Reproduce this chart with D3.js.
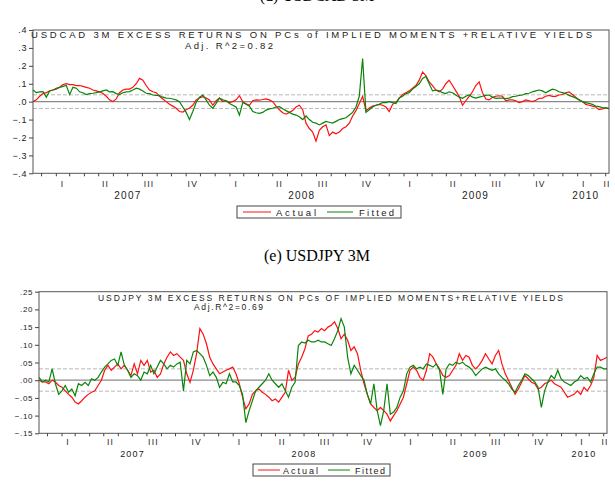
<!DOCTYPE html>
<html>
<head>
<meta charset="utf-8">
<script src="https://cdn.jsdelivr.net/npm/d3@7"></script>
<style>
  body { margin: 0; background: #fff; }
  svg { display: block; font-family: "Liberation Sans", Arial, sans-serif; }
</style>
</head>
<body>
<svg id="fig" width="615" height="489"></svg>
<script>
// weekly observations, first one on 15 Dec 2006
const startDate = new Date(2006, 11, 15);
const quarterNames = ["I", "II", "III", "IV"];
const years = [2007, 2008, 2009, 2010];
const legendNames = ["Actual", "Fitted"];

// USDCAD 3M
const cadActual = [
  0.00, .01, .03, .045, .05, .06, .065, .07, .08, .095,
  .10, .095, .095, .09, .09, .085, .08, .075, .065, .06,
  .055, .045, .03, .01, .00, .015, .05, .065, .07, .07,
  .08, .10, .13, .12, .09, .065, .055, .05, .03, .015,
  .00, -.015, -.025, -.037, -.055, -.058, -.045, -.035, -.02, .01,
  .02, .028, .02, .01, -.02, .005, .02, .00, .005, -.005,
  .00, .01, .033, .00, -.012, -.02, .005, .01, .008, .012,
  .015, .01, .00, -.025, -.045, -.062, -.07, -.06, -.05, -.03,
  -.02, -.045, -.12, -.15, -.17, -.22, -.16, -.14, -.13, -.19,
  -.17, -.18, -.17, -.15, -.14, -.12, -.08, -.05, -.01, .03,
  -.05, -.035, -.025, -.02, -.015, -.02, -.03, -.055, -.015, -.005,
  .02, .04, .05, .06, .075, .09, .12, .165, .145, .11,
  .09, .065, .055, .07, .10, .12, .09, .06, .03, -.02,
  .005, .03, .055, .09, .11, .05, .015, .01, .025, .03,
  .033, .03, .005, .01, .01, .005, -.005, .00, .01, .005,
  .00, .008, .018, .02, .03, .035, .03, .03, .037, .04,
  .05, .055, .04, .025, .01, .00, -.015, -.02, -.025, -.03,
  -.045, -.04, -.035, -.04
];
const cadFitted = [
  .065, .05, .055, .056, .025, .06, .065, .075, .08, .085,
  .09, .04, .08, .075, .055, .05, .04, .045, .047, .05,
  .055, .06, .065, .055, .056, .045, .04, .05, .055, .056,
  .065, .075, .07, .06, .047, .045, .037, .035, .034, .025,
  .02, .019, .015, .01, .00, -.03, -.06, -.1, -.055, -.005,
  .025, .037, .01, -.02, -.037, -.01, .02, .01, .005, -.01,
  -.02, -.03, -.075, -.005, -.015, -.025, -.055, -.062, -.065, -.06,
  -.047, -.04, -.037, -.03, -.028, -.04, -.05, -.06, -.07, -.075,
  -.084, -.1, -.08, -.1, -.115, -.12, -.13, -.12, -.11, -.115,
  -.12, -.11, -.1, -.095, -.09, -.075, -.06, -.03, .03, .24,
  -.06, -.045, -.03, -.02, -.015, -.005, -.005, .00, -.005, -.01,
  .02, .03, .045, .05, .07, .085, .10, .13, .14, .10,
  .06, .065, .06, .05, .045, .055, .05, .037, .025, .019,
  .03, .037, .025, .02, .025, .03, .035, .037, .025, .018,
  .02, .02, .017, .02, .028, .03, .035, .037, .045, .047,
  .055, .06, .065, .06, .05, .06, .07, .065, .055, .05,
  .045, .035, .028, .02, .01, .00, -.005, -.01, -.015, -.025,
  -.028, -.033, -.035, -.038
];
const cadTicks = [.4, .3, .2, .1, 0, -.1, -.2, -.3, -.4];
const cadBands = [.038, -.038];

// USDJPY 3M
const jpyActual = [
  .00, -.005, -.005, -.01, .00, -.005, -.015, -.02, -.03, -.04,
  -.048, -.062, -.067, -.058, -.048, -.04, -.034, -.03, -.015, .00,
  .028, .042, .028, .037, .046, .032, .042, .028, .013, .046,
  .018, .056, .042, .056, .023, .028, .008, .018, .046, .065,
  .08, .07, .075, .065, .056, .018, -.006, .028, .075, .146,
  .13, .103, .065, .046, .032, .018, .023, .028, .032, .037,
  .018, -.01, -.048, -.081, -.067, -.04, -.03, -.025, -.034, -.04,
  -.048, -.058, -.053, -.062, -.048, -.034, .028, .00, .008, .046,
  .065, .089, .125, .13, .14, .136, .146, .14, .15, .155,
  .165, .146, .117, .13, .113, .084, .094, .075, .028, -.01,
  -.04, -.067, -.077, -.086, -.077, -.086, -.096, -.115, -.1, -.086,
  -.067, -.048, -.01, .028, .037, .028, .008, .00, .028, .075,
  .065, .046, .032, .013, .008, .013, .028, .042, .075, .056,
  .07, .065, .042, .032, .042, .056, .075, .06, .046, .07,
  .084, .046, .018, .00, -.02, -.04, -.025, -.006, .013, .004,
  -.006, -.01, -.025, -.02, -.01, -.006, .00, -.01, -.015, -.02,
  -.034, -.048, -.044, -.04, -.03, -.04, -.02, -.03, -.015, .008,
  .07, .056, .06, .065
];
const jpyFitted = [
  .008, -.005, .00, -.005, .032, -.01, -.04, -.03, -.015, -.034,
  -.025, -.044, -.01, -.015, -.006, -.015, .004, .00, .008, .023,
  .037, .046, .056, .06, .042, .08, .042, .028, .008, .018,
  .013, .00, .023, .018, .042, .018, .037, .056, .046, .032,
  .042, .037, .046, .051, -.03, .056, .046, .08, .084, .075,
  .065, .042, .013, .023, .008, -.02, -.006, -.01, .018, -.005,
  -.005, -.015, -.04, -.12, -.086, -.058, -.03, -.02, -.01, .00,
  .018, .00, -.01, -.02, -.01, -.03, -.048, -.02, -.006, .098,
  .108, .105, .113, .108, .108, .113, .108, .108, .103, .098,
  .117, .14, .174, .15, .065, .018, .042, .028, .013, .00,
  -.04, -.067, -.01, -.086, -.128, -.086, -.01, -.096, -.09, -.077,
  -.048, -.03, .018, .037, .042, .032, .037, .032, .046, .042,
  .037, .046, .028, -.04, .032, .046, .042, .051, .046, .051,
  .042, .037, .028, .013, .023, .032, .037, .032, .028, .032,
  .018, .008, .00, -.01, -.025, -.034, -.015, .00, .018, .013,
  .004, -.005, -.02, -.077, -.03, -.005, .013, .004, .028, .004,
  -.005, -.01, -.015, -.005, .00, .013, .004, .008, -.005, .018,
  .037, .037, .032, .032
];
const jpyTicks = [.25, .20, .15, .10, .05, 0, -.05, -.10, -.15];
const jpyBands = [.032, -.031];

const dates = cadActual.map((d, i) => d3.timeWeek.offset(startDate, i));
const svg = d3.select("#fig");

// sub-figure captions (the first one is cut by the page edge, as in the scan)
svg.append("text")
    .attr("x", 317).attr("y", 1)
    .attr("text-anchor", "middle")
    .style("font-family", "'Liberation Serif', serif")
    .style("font-size", "16px")
    .text("(d) USDCAD 3M");
svg.append("text")
    .attr("x", 317).attr("y", 261)
    .attr("text-anchor", "middle")
    .style("font-family", "'Liberation Serif', serif")
    .style("font-size", "16px")
    .text("(e) USDJPY 3M");

function drawPanel(p) {
    const x = d3.scaleTime()
        .domain([dates[0], dates[dates.length - 1]])
        .range([p.left, p.right]);
    const y = d3.scaleLinear()
        .domain([p.ticks[p.ticks.length - 1], p.ticks[0]])
        .range([p.bottom, p.top]);
    const g = svg.append("g");

    // reference lines
    p.bands.forEach(b => {
        g.append("line")
            .attr("x1", p.left).attr("x2", p.right)
            .attr("y1", y(b)).attr("y2", y(b))
            .attr("stroke", "#b8b8b8")
            .attr("stroke-dasharray", "4,2");
    });
    g.append("line")
        .attr("x1", p.left).attr("x2", p.right)
        .attr("y1", y(0)).attr("y2", y(0))
        .attr("stroke", "#8a8a8a")
        .attr("stroke-width", 1.2);

    // series
    const line = d3.line()
        .x((d, i) => x(dates[i]))
        .y(d => y(d));
    g.append("path").datum(p.actual)
        .attr("d", line)
        .attr("fill", "none")
        .attr("stroke", "#ff1010")
        .attr("stroke-width", 1.2);
    g.append("path").datum(p.fitted)
        .attr("d", line)
        .attr("fill", "none")
        .attr("stroke", "#0a850a")
        .attr("stroke-width", 1.2);

    // frame
    g.append("rect")
        .attr("x", p.left).attr("y", p.top)
        .attr("width", p.right - p.left).attr("height", p.bottom - p.top)
        .attr("fill", "none")
        .attr("stroke", "#555");

    // y axis
    const fmt = d3.format(p.fmt);
    const yAxis = g.append("g")
        .attr("transform", "translate(" + p.left + ",0)")
        .call(d3.axisLeft(y)
            .tickValues(p.ticks)
            .tickSize(4)
            .tickPadding(2)
            .tickFormat(d => fmt(d).replace("0.", ".")));
    yAxis.select(".domain").remove();
    yAxis.selectAll("line").attr("stroke", "#444");
    yAxis.selectAll("text")
        .attr("fill", "#222")
        .style("font-size", p.tickFont + "px")
        .style("letter-spacing", "0.6px");

    // x axis: monthly ticks
    const xAxis = g.append("g")
        .attr("transform", "translate(0," + p.bottom + ")")
        .call(d3.axisBottom(x)
            .ticks(d3.timeMonth.every(1))
            .tickSize(3)
            .tickFormat(""));
    xAxis.select(".domain").remove();
    xAxis.selectAll("line").attr("stroke", "#444");

    // quarter labels, centred on the part of each quarter in the sample
    const [d0, d1] = x.domain();
    years.forEach(yr => {
        quarterNames.forEach((q, k) => {
            const a = new Date(yr, k * 3, 1), b = new Date(yr, k * 3 + 3, 1);
            if (b <= d0 || a >= d1) return;
            const lo = Math.max(a, d0), hi = Math.min(b, d1);
            g.append("text")
                .attr("x", x(new Date((lo + hi) / 2)))
                .attr("y", p.qY)
                .attr("text-anchor", "middle")
                .attr("fill", "#222")
                .style("font-size", "8.5px")
                .style("letter-spacing", "1.2px")
                .text(q);
        });
        const lo = Math.max(new Date(yr, 0, 1), d0), hi = Math.min(new Date(yr + 1, 0, 1), d1);
        g.append("text")
            .attr("x", x(new Date((lo + hi) / 2)))
            .attr("y", p.yrY)
            .attr("text-anchor", "middle")
            .attr("fill", "#222")
            .style("font-size", p.yrFont + "px")
            .style("letter-spacing", "1.2px")
            .text(yr);
    });

    // titles
    [p.title, p.sub].forEach(t => {
        g.append("text")
            .attr("x", t.x).attr("y", t.y)
            .attr("textLength", t.w).attr("lengthAdjust", "spacing")
            .attr("fill", "#222")
            .style("font-size", t.size + "px")
            .text(t.text);
    });

    // legend
    const L = p.legend;
    g.append("rect")
        .attr("x", L.x).attr("y", L.y)
        .attr("width", L.w).attr("height", L.h)
        .attr("fill", "#fff")
        .attr("stroke", "#444");
    const colors = ["#ff1010", "#0a850a"];
    legendNames.forEach((name, k) => {
        const it = L.items[k];
        g.append("line")
            .attr("x1", it.l0).attr("x2", it.l1)
            .attr("y1", L.y + L.h / 2).attr("y2", L.y + L.h / 2)
            .attr("stroke", colors[k]);
        g.append("text")
            .attr("x", it.tx).attr("y", L.y + L.h / 2 + 3.5)
            .attr("textLength", it.tw).attr("lengthAdjust", "spacing")
            .attr("fill", "#222")
            .style("font-size", L.font + "px")
            .text(name);
    });
}

drawPanel({
    left: 33, right: 609, top: 30, bottom: 173.3,
    ticks: cadTicks, fmt: ".1f", tickFont: 9,
    bands: cadBands, actual: cadActual, fitted: cadFitted,
    qY: 186.5, yrY: 198.5, yrFont: 10,
    title: { text: "USDCAD 3M EXCESS RETURNS ON PCs of IMPLIED MOMENTS +RELATIVE YIELDS", x: 31, y: 37.5, w: 561, size: 9.5 },
    sub: { text: "Adj. R^2=0.82", x: 185, y: 48.5, w: 88, size: 9.5 },
    legend: { x: 237, y: 206, w: 164, h: 12, font: 9.5,
        items: [{ l0: 243, l1: 271, tx: 276, tw: 40 }, { l0: 327, l1: 353, tx: 359, tw: 35 }] }
});

drawPanel({
    left: 39, right: 607, top: 291.7, bottom: 433.3,
    ticks: jpyTicks, fmt: ".2f", tickFont: 8,
    bands: jpyBands, actual: jpyActual, fitted: jpyFitted,
    qY: 445, yrY: 457, yrFont: 9,
    title: { text: "USDJPY 3M EXCESS RETURNS ON PCs OF IMPLIED MOMENTS+RELATIVE YIELDS", x: 98, y: 301, w: 465, size: 8.5 },
    sub: { text: "Adj.R^2=0.69", x: 194, y: 310, w: 69, size: 8.5 },
    legend: { x: 253, y: 464, w: 137, h: 12, font: 9,
        items: [{ l0: 258, l1: 280, tx: 283, tw: 35 }, { l0: 328, l1: 350, tx: 355, tw: 30 }] }
});
</script>
</body>
</html>
